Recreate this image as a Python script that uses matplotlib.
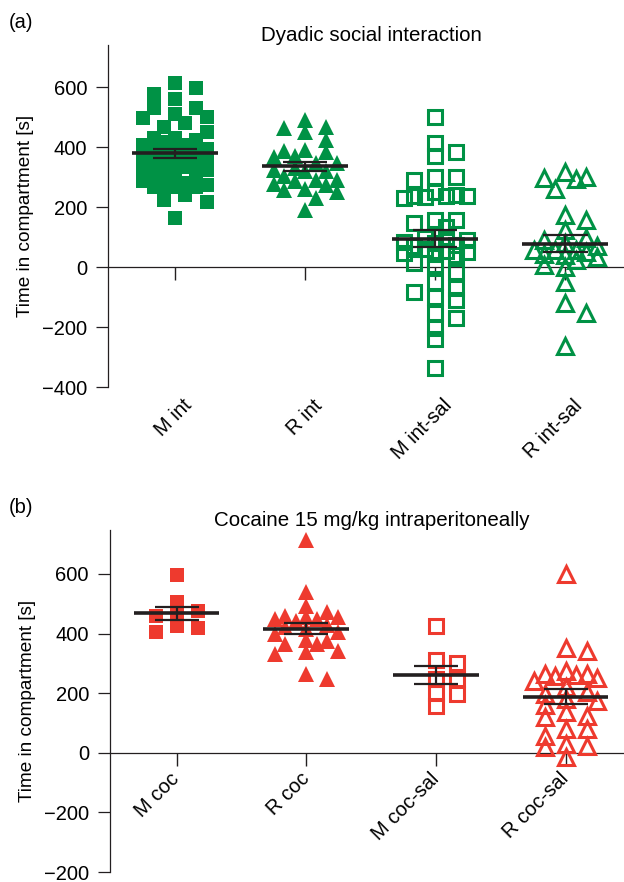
import numpy as np
import matplotlib.pyplot as plt
from matplotlib.transforms import ScaledTranslation

plt.rcParams['font.family'] = ['Liberation Sans', 'DejaVu Sans']

GREEN = '#009245'
RED = '#ee3a2e'

# panel (a): dyadic social interaction
cats_a = ['M int', 'R int', 'M int-sal', 'R int-sal']
m_int = [613, 597, 577, 560, 530, 530, 510, 497, 500, 480, 467, 450, 430, 430, 417, 423,
         407, 407, 395, 390, 385, 380, 378, 372, 368, 362, 358, 350, 347, 340, 333, 333,
         323, 313, 307, 300, 295, 288, 280, 275, 267, 267, 267, 260, 240, 223, 217, 163]
r_int = [490, 467, 463, 450, 423, 390, 387, 383, 370, 367, 347, 347, 330, 323, 320, 320,
         303, 290, 290, 287, 277, 273, 260, 257, 250, 230, 190]
m_int_sal = [500, 413, 383, 370, 300, 300, 290, 250, 240, 237, 237, 237, 233, 230, 157,
             157, 147, 133, 97, 95, 90, 83, 80, 75, 70, 60, 55, 50, 47, 45, 40, 13, 7,
             -17, -50, -70, -83, -100, -110, -153, -170, -203, -240, -337]
r_int_sal = [317, 300, 297, 293, 260, 173, 157, 123, 97, 90, 80, 70, 57, 57, 57, 50, 45,
             40, 33, 25, 7, 0, -50, -120, -153, -263]

# panel (b): cocaine 15 mg/kg i.p.
cats_b = ['M coc', 'R coc', 'M coc-sal', 'R coc-sal']
m_coc = [595, 505, 475, 465, 458, 425, 418, 405]
r_coc = [713, 538, 492, 471, 458, 455, 455, 448, 448, 441, 430, 421, 415, 405, 398, 378,
         375, 364, 364, 341, 338, 331, 264, 247]
m_coc_sal = [425, 311, 301, 247, 247, 200, 197, 157]
r_coc_sal = [599, 351, 341, 274, 264, 264, 261, 258, 251, 241, 221, 204, 197, 181, 174,
             160, 137, 124, 120, 80, 80, 57, 30, 23, 20, -13]


def scatter_offsets(values, px_x, px_y, step=10.5, wx=13, wy=11, ncol=3):
    # beeswarm-ish layout on a grid of columns, in pixels
    order = np.argsort(values)[::-1]
    cands = [0.0]
    for k in range(1, ncol + 1):
        cands += [k * step, -k * step]
    placed = []
    offs = np.zeros(len(values))
    for i in order:
        y = values[i] * px_y
        best, best_d = None, -1
        for c in cands:
            hits = [(px, py) for px, py in placed if abs(c - px) < wx and abs(y - py) < wy]
            if not hits:
                best = c
                break
            d = min(np.hypot(c - px, y - py) for px, py in hits)
            if d > best_d:
                best, best_d = c, d
        placed.append((best, y))
        offs[i] = best / px_x
    return offs


def draw_panel(ax, groups, color, ylim, px_y, title):
    markers = ['s', '^', 's', '^']
    for i, vals in enumerate(groups):
        vals = np.array(vals, dtype=float)
        x = i + scatter_offsets(vals, 130, px_y)
        filled = i < 2
        ax.plot(x, vals, linestyle='none', marker=markers[i],
                markersize=10 if markers[i] == 's' else 11,
                markerfacecolor=color if filled else 'none',
                markeredgecolor=color, markeredgewidth=0 if filled else 2.2,
                zorder=3)
        m = vals.mean()
        se = vals.std(ddof=1) / np.sqrt(len(vals))
        ax.hlines(m, i - 0.33, i + 0.33, color='#231f20', lw=2.6, zorder=4)
        ax.hlines([m - se, m + se], i - 0.17, i + 0.17, color='#231f20', lw=1.6, zorder=4)
        ax.vlines(i, m - se, m + se, color='#231f20', lw=1.6, zorder=4)

    ax.set_xlim(-0.515, 3.45)
    ax.set_ylim(*ylim)
    ax.spines['top'].set_visible(False)
    ax.spines['right'].set_visible(False)
    ax.spines['bottom'].set_position(('data', 0))
    for s in ['left', 'bottom']:
        ax.spines[s].set_linewidth(0.9)
        ax.spines[s].set_color('#231f20')
    ax.set_xticks(range(4))
    ax.tick_params(axis='x', length=9.5, width=1, color='#231f20')
    ax.tick_params(axis='y', length=9, width=0.9, color='#231f20', labelsize=14.5, pad=6)
    ax.set_ylabel('Time in compartment [s]', fontsize=13.7, labelpad=6)
    ax.set_title(title, fontsize=14.8, pad=3, x=0.51)


fig = plt.figure(figsize=(6.24, 8.82), dpi=100)
ax1 = fig.add_axes([0.173, 0.561, 0.827, 0.388])
ax2 = fig.add_axes([0.176, 0.0113, 0.824, 0.388])

draw_panel(ax1, [m_int, r_int, m_int_sal, r_int_sal], GREEN, (-400, 740), 0.3,
           'Dyadic social interaction')
draw_panel(ax2, [m_coc, r_coc, m_coc_sal, r_coc_sal], RED, (-400, 748), 0.299,
           'Cocaine 15 mg/kg intraperitoneally')

ax1.set_yticks([600, 400, 200, 0, -200, -400],
               labels=['600', '400', '200', '0', '\u2212200', '\u2212400'])
ax2.set_yticks([600, 400, 200, 0, -200, -400],
               labels=['600', '400', '200', '0', '\u2212200', '\u2212200'])


def rotate(labels, dx_pt):
    for lab in labels:
        lab.set_rotation(45)
        lab.set_ha('right')
        lab.set_va('center')
        lab.set_rotation_mode('anchor')
        lab.set_transform(lab.get_transform() + ScaledTranslation(dx_pt / 72, 0, fig.dpi_scale_trans))


# panel (a): labels sit at the bottom of the axes
ax1.set_xticklabels([])
sec = ax1.secondary_xaxis('bottom')
sec.set_xticks(range(4), labels=cats_a)
sec.spines['bottom'].set_visible(False)
sec.tick_params(length=0, labelsize=14.5, pad=11)
rotate(sec.get_xticklabels(), 10)

# panel (b): labels hang from the zero line
ax2.set_xticklabels(cats_b, fontsize=14.5)
ax2.tick_params(axis='x', pad=7)
rotate(ax2.get_xticklabels(), 0)

fig.text(0.014, 0.968, '(a)', fontsize=14.5)
fig.text(0.014, 0.418, '(b)', fontsize=14.5)

fig.savefig('out.png', dpi=100)
